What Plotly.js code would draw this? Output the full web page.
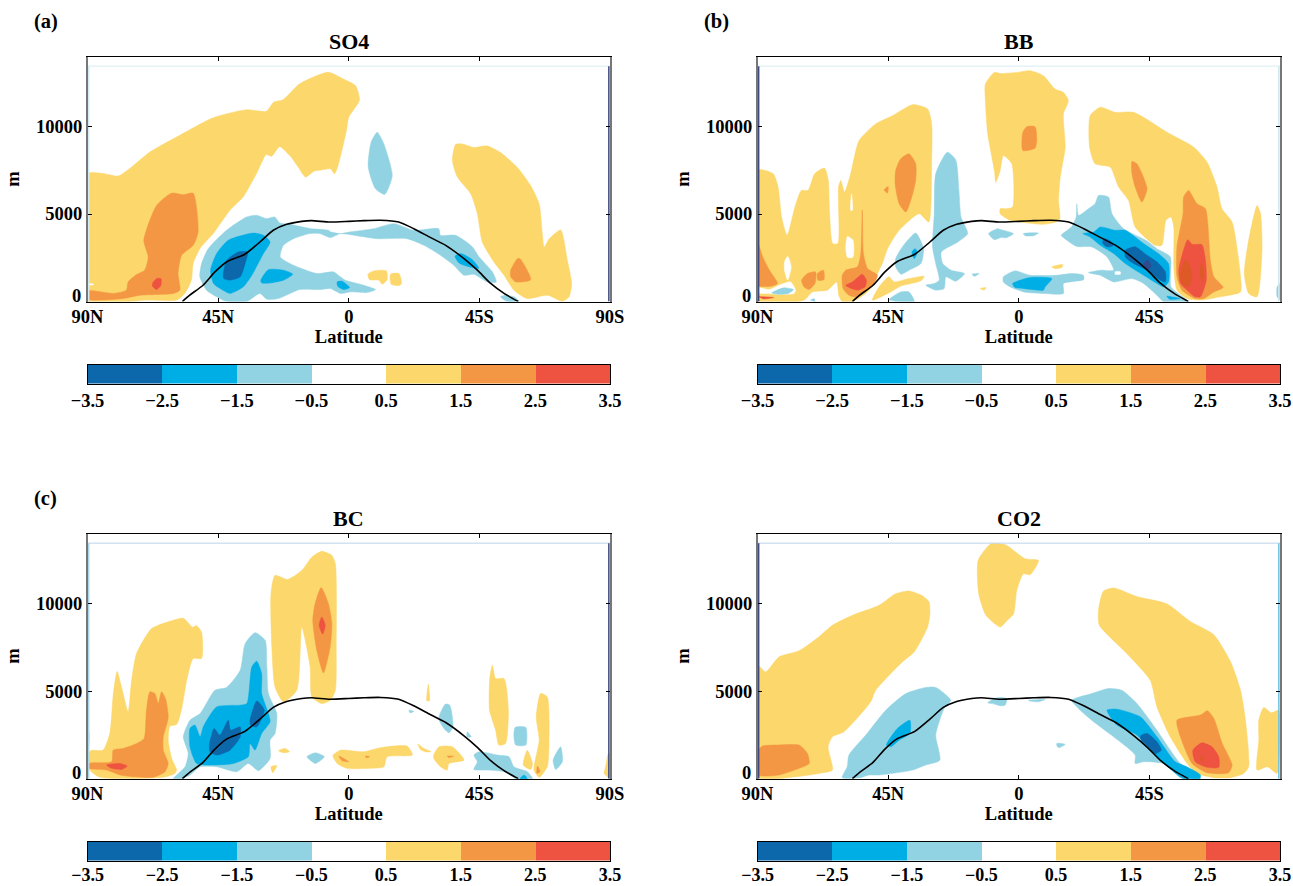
<!DOCTYPE html>
<html><head><meta charset="utf-8">
<script src="https://cdn.plot.ly/plotly-3.0.1.min.js"></script>
<style>html,body{margin:0;padding:0;background:#fff}</style></head>
<body><div id="chart" style="width:1293px;height:886px"></div>
<script>
// Contour outlines: flat lists of latitude (N +, S -), height (m)
const levels = [-3, -2, -1, 0, 1, 2, 3];
const levelEdges = [-3.5, -2.5, -1.5, -0.5, 0.5, 1.5, 2.5, 3.5];
const latTicks = [90, 45, 0, -45, -90];
const latLabels = ['90N', '45N', '0', '45S', '90S'];
const terrainLat = [57.3,54.8,50.2,46.1,42.1,35.8,30.6,26,21.4,16.2,12.8,6.5,0,-5.2,-10.9,-17.2,-22.4,-28.2,-33.4,-39.7,-44.3,-48.9,-53.5,-58.4];
const terrainH = [0,360,930,1690,2260,2700,3400,4070,4410,4580,4620,4540,4580,4620,4640,4540,4160,3650,3210,2450,1790,1030,460,0];

// SO4
const so4_y1 = [89.8,7310,84.6,7310,79.4,7170,74.8,7690,68.5,8540,58.2,9500,46.7,10500,35.2,10960,28.4,10870,25.8,11400,22.6,11530,16.9,12440,7.1,13100,1.7,12700,-2.3,12340,-3.7,11510,0,10530,0.8,9770,3.5,7870,4.9,7300,6.3,7580,10,7500,12,7450,14.9,7110,17.4,7680,20.3,8340,23.8,8850,26.6,8300,28.4,8400,31.8,7300,36.4,5970,41,5200,46.7,3880,51.3,3020,53.6,2170,54.2,1220,56.5,460,59.3,80,69.7,80,89.9,20];
const so4_o1 = [89.8,610,81.2,460,76.6,650,76,1120,73.1,1540,70.3,1790,69.1,2550,70.6,3500,66.2,5490,61,6190,57,6100,53.6,6190,51.9,3970,53.6,3210,57.6,2640,58.8,1600,58.2,650,60.5,460,72,360,77.7,170,89.8,130];
const so4_r1 = [67.6,1030,66.2,1310,64.7,1310,64.7,930,66.2,680,67.6,870];
const so4_w1 = [89.7,1000,88,1000,88,950,89.7,950];
const so4_b1 = [51.3,1410,50.7,2170,48.4,3020,42.1,4070,35.2,4830,31.8,4930,28.4,4740,25.5,4830,23.8,4490,20.3,4410,13.4,4170,7,4070,6.3,3980,2.9,3880,-0.6,3980,-8.6,4160,-15.5,4450,-22.4,4070,-31,4160,-31.6,3780,-36.8,3780,-42.6,3120,-44.9,2550,-49.5,1690,-50.8,1120,-47.7,1120,-43.1,1560,-39.7,1500,-36.2,2070,-31.6,2640,-25.9,3210,-20.1,3590,-9.8,3590,-0.6,3820,2.9,3880,6.3,3650,10,3880,13.4,3880,19,3590,22.5,3210,23.6,2550,19,2070,11,1600,5.2,1690,2.9,1410,1.2,1220,-5.2,930,-9.2,680,-6.3,510,-0.6,550,2.9,460,6.3,740,10,680,16.9,680,24.2,170,28.2,130,30.6,460,35.2,0,42.1,0,45.5,270,49,650];
const so4_m1 = [47.6,1790,45.5,2740,41.5,3500,32.9,3910,29.4,3780,27.1,3400,29.4,2740,33.4,1500,36.3,840,40.9,460,44.3,740,46.6,1030];
const so4_d1 = [43.2,1600,42,2360,38,2830,34.9,2830,35.7,2170,37.4,1410,40.9,1220,43,1310];
const so4_m2 = [30.3,1220,27.7,1820,22.5,1790,19.3,1560,22.5,1220,27.1,1060,30,1060];
const so4_m3 = [4,1120,2.3,1160,-0.3,800,1.7,680,3.8,870];
const so4_m4 = [-36.6,2590,-38.5,2750,-42.5,2400,-44.8,1900,-42,1960,-38,2200];
const so4_b2 = [-9.8,9670,-12.1,9000,-15,7200,-12.4,6120,-9.2,6440,-6.7,7680,-7.7,9100];
const so4_b3 = [-52.3,270,-54,360,-56.9,270,-58.7,0,-54.6,0];
const so4_y2 = [-36.8,8970,-39.1,9000,-43.1,8800,-47.7,8890,-52.3,8510,-58.1,7660,-62.7,6610,-65.6,5570,-66.7,3860,-67.3,3100,-69,3570,-73,4090,-75.3,2360,-76.8,1030,-75.9,270,-73.6,20,-68.4,360,-61.5,170,-56.9,650,-53.5,1500,-50,2260,-46,3400,-44.3,5020,-42,6160,-37.4,7120,-35.7,8060];
const so4_o2 = [-55.8,1790,-58.1,2450,-59,2450,-62.7,1250,-57.5,1120,-55.8,1410];
const so4_y3 = [-6.6,1560,-8.6,1750,-13,1750,-13.2,1250,-11.5,990,-10.4,1220,-7.2,1250];
const so4_y4 = [-14.4,1560,-17.3,1600,-18.2,1030,-17.3,910,-14.6,990];

// BB
const bb_y1 = [90,7520,84.6,7300,82.9,6540,81.7,4830,79.8,3780,77.1,5400,74.9,6350,72.6,6350,70.3,7300,66.9,7620,65.6,6920,65.2,5210,64.1,3310,62.3,3310,62.1,6540,61.3,6920,60,6250,57.9,7300,55,9200,49.3,10150,43.5,10620,36.6,11250,31.4,11000,30,10150,30,8060,31,4540,34.3,5020,41.2,4070,45.2,3020,47,2170,48.1,1790,50.6,840,52.7,460,57.3,0,60.8,0,62,360,62.7,1120,65.9,650,71.1,550,74,80,90,0];
const bb_w1 = [79.6,2580,78.4,1980,79.6,1220,80.7,1790,80.7,2260];
const bb_w2 = [90,800,86,680,82.6,930,78.6,1120,76.9,650,77.4,460,82.6,420,87,460,90,490];
const bb_w3 = [59,3720,57.1,3500,57.1,2550,59,2510,59.6,3120];
const bb_w4 = [57.6,6160,57.3,5210,57.9,5210];
const bb_y2t = [44.7,1410,42.9,1120,37.8,1310,32.6,1440,33.7,1180,40.6,880,44.1,550,50.4,80,48.1,840];
const bb_b0 = [85.1,490,81,780,77.6,680,79.3,460,82.8,420];
const bb_o1 = [90,3400,88.2,2550,85.9,1790,83.1,1030,85.4,870,90,930];
const bb_o2 = [74.8,1220,72.8,1600,70,1690,70.2,1030,72.3,680,74,840];
const bb_o3 = [69.4,1600,67.3,1790,67.1,1250,69.2,1220];
const bb_o4 = [60.8,1500,59.6,1790,55.6,1980,54.4,2740,53.9,5210,53.5,2740,52.1,1880,48.7,1500,50.6,840,53.3,550,56.2,270,58.5,360,60.5,740];
const bb_r1 = [59.6,930,57.3,1120,53.9,1560,52.5,1220,52.9,840,55.6,650,58.5,800];
const bb_o5 = [42.4,7490,40.7,8150,37.8,8440,35.5,7870,35.5,6920,37.2,5780,38.9,5110,41.2,5590,42.6,6730];
const bb_o6 = [46.4,6380,45,6570,45.2,6190];
const bb_r0 = [89.5,270,84.4,230,87.9,150];
const bb_b1 = [42.4,2450,40.1,3120,35.5,3910,32.8,3020,33.7,2170,37.8,1790,40.6,1560,42.4,1980];
const bb_m0 = [36.8,2830,35.7,3020,34.9,2830,36,2450];
const bb_b2 = [28.6,7300,24.6,8530,21.7,8090,20.6,6350,19.9,4830,17.6,3880,21,3400,26.7,2830,26.2,2170,23.3,1790,18.7,1600,21.7,1160,25.1,1410,25.7,740,28.6,650,32,930,29.1,1030,27.4,1220,28.6,2170,29.7,3120,29.1,5020];
const bb_b4 = [44.7,110,40.6,550,37.8,550,36,0,42.4,0];
const bb_b5 = [10.4,3880,7.3,4160,6.4,4120,1.8,3880,4.1,3650,6.4,3650,8.4,3530];
const bb_b6 = [-1.6,3880,-6.8,3910,-5.1,3760,-2.2,3760];
const bb_b7 = [16.1,1560,13.6,1600,15.3,1440];
const bb_b8 = [71.7,80,70.5,170,70.2,0];
const bb_y3s = [13.3,740,11.3,800,11.9,650];
const bb_y2 = [11.5,12430,8.4,13090,6.4,13030,0.7,13090,-3.9,13190,-8.5,12900,-12.5,12140,-15.4,11950,-17.1,11480,-15.4,10720,-16,8820,-14.3,7110,-13.7,5780,-14,4640,-8.5,4410,-0.5,4540,3,4640,6.4,5020,6.4,5300,4.1,5300,2.1,5400,2.4,7870,5.3,8340,6.4,7490,7.9,6820,8.4,7490,10.7,9580,11.5,11480];
const bb_o8 = [-1.4,9670,-2.8,9990,-5.6,9990,-6.2,9200,-5.6,8760,-1.4,8630];
const bb_y3 = [-24.4,8820,-24.6,10620,-28.1,11100,-33.2,10810,-39.6,10810,-51.1,9670,-60.3,8820,-64.9,7960,-68.3,6540,-70,5300,-73.5,4540,-76.4,1410,-76.4,550,-69.5,270,-62.6,80,-58,170,-54.5,650,-53.4,1980,-53.4,4260,-52.4,4830,-50.7,4640,-49.3,3210,-47,3210,-40.1,4260,-37.8,5780,-34.4,6540,-31.5,7680,-26.3,7870];
const bb_o9 = [-39,8000,-40.7,7870,-44.2,6440,-42.4,5680,-40.1,6540,-39,7300];
const bb_o10 = [-56.8,5970,-58.5,6350,-61.4,5590,-64.3,5300,-66,2360,-67.2,1410,-70.4,800,-67.2,550,-63.7,170,-60.8,170,-56.2,650,-54.5,1410,-54.5,3120,-56.6,5020];
const bb_r2 = [-55.8,2360,-58.2,3530,-59.7,3270,-63.1,3250,-64.3,2360,-64.6,1220,-62.6,270,-60.8,270,-58,650,-55.7,1030,-55.1,1790];
const bb_x1 = [-55.7,1600,-57.4,2390,-59.1,1980,-59.7,1410,-58.5,870,-56.2,1030];
const bb_x2 = [-62.3,1600,-63,2160,-63.7,1600,-63.2,1180];
const bb_y4 = [-79.2,3500,-82.1,5490,-83.3,5020,-83.8,2930,-82.1,270,-79.2,460,-77.7,1600];
const bb_b9 = [-14.6,3780,-18.3,4290,-19.8,4830,-20,5590,-20.6,4920,-24,5300,-26.3,5590,-27.5,6060,-30.9,5970,-32.1,5020,-36.1,4160,-44.2,3460,-47.6,3020,-52.2,2550,-52.4,840,-55.7,360,-58.5,0,-49.9,0,-47.6,360,-43,1030,-39,1310,-32.7,1120,-28.1,1500,-24,1650,-28.1,1790,-32.7,1790,-30.4,2550,-25.2,3120,-20,3150,-15.4,3650];
const bb_w5 = [-33.2,1700,-35,1700,-35,1560,-33.2,1560];
const bb_m4 = [-22.1,3880,-25.8,3970,-28.1,4260,-33.2,4070,-36.7,4070,-43,3310,-48.8,2650,-51.6,2170,-51.6,1120,-49.9,840,-47.6,1030,-43,1500,-36.7,2170,-32.7,2740,-28.1,3210,-24.6,3680];
const bb_d1 = [-36.7,2930,-40.2,3120,-44.2,2640,-47.6,2260,-50.5,1690,-50.5,1120,-48.8,1220,-44.2,1790,-39.6,2170,-36.7,2550];
const bb_d2 = [-29.2,3590,-31.5,3460,-32.7,3210,-30.4,3120,-29,3310];
const bb_n1 = [-43,2170,-44.7,2360,-45.5,1980,-44.2,1820];
const bb_m5 = [-51,300,-55.6,170,-52,130];
const bb_b10 = [5.3,1410,1.3,1750,-3.9,1500,-13.1,1500,-18.3,1600,-22.3,1500,-22.3,1250,-15.4,1030,-15.4,460,-8.5,460,-1.6,550,3,840,5.3,1120];
const bb_m6 = [2.1,1030,-3.9,1370,-11.4,1310,-9.1,840,-8.5,650,-1.6,740,1.3,800];
const bb_y5 = [-11.4,1980,-15.2,2110,-14.8,1940,-12.5,1880];
const bb_b11 = [-89,840,-90,1030,-90,80,-89,270];

// BC
const bc_y1 = [89.8,1250,89,1600,84.6,1640,82.3,2590,81.1,4860,79.8,6120,78.3,5250,76,3820,74.8,5630,73.1,7150,67.9,8570,61.6,8990,57,9160,53.8,8650,52.4,8740,50.7,8360,50.7,6860,53.6,6860,55.8,5630,57.6,3950,59.3,3100,61.6,3000,62.2,2200,61,1160,59.3,490,59.9,300,63.9,80,85.7,80,89.2,490];
const bc_o1 = [89.4,870,81.7,970,81.1,1640,77.7,1730,73.1,2010,70.5,2300,69.7,3910,68.5,4960,66.8,4860,65.6,4290,64.5,4960,63.1,4560,62.2,3500,63.9,2390,63.9,1630,62.2,870,63.3,400,67.4,80,74.2,110,78.8,210,83.4,490,89.4,590];
const bc_r1 = [83.4,780,78.8,870,76.3,720,78.2,530,81.7,590];
const bc_b1 = [90,3100,89.4,2500,89.7,1800,90,1800];
const bc_b2 = [57,2390,54.7,3340,51.2,3720,46.1,5050,42.1,5210,37.4,6190,35.7,7710,32.3,8340,28.8,7900,28.2,6380,27.7,4860,24.8,3720,25.4,2580,27.1,2200,27.1,1160,31.1,460,34.6,870,38.6,400,45.5,680,51.2,680,54.7,210,57.6,0,60.4,0,56.4,680,55.3,1440];
const bc_m1 = [54.7,2870,53,3060,51.2,2390,50.1,2970,45.5,4100,37.4,4200,35.1,4290,33.4,6380,31.7,6710,30,6000,30,4860,27.7,3720,27.1,3250,30,2580,32.3,1630,34,2010,34.6,1250,39.7,870,46.6,780,52.4,870,54.7,1830];
const bc_d1 = [48,1920,46.4,2870,44.4,2490,41.5,3340,40.7,2770,37.4,2960,37.4,2390,40.9,1630,45.5,1350,47.8,1540];
const bc_d2 = [34,3340,31.7,4430,29.1,3910,31.7,2960,33.8,3060];
const bc_y2 = [26.8,10560,25.4,11610,21.1,11380,16.2,11890,12.7,12650,9.3,12980,5.8,12750,4.6,12270,4.3,7520,4.6,5050,6.3,4480,9.3,4290,12.7,4670,13.3,6380,16.2,8660,17.9,5050,22.5,4390,25.4,5240,26.5,7520];
const bc_o2 = [9.5,10910,7,9990,5.8,8850,6.4,7520,8.7,6040,11,7320,12.4,9040,11.6,9990];
const bc_r2 = [9.3,9230,8.1,8760,9,8250,10.2,8760];
const bc_y3 = [5.4,1350,2.9,1630,-5.2,1540,-10.9,1770,-20.1,1860,-21.9,1350,-13.2,1250,-12.1,680,-7.5,590,0.6,590,4,870,5.4,1250];
const bc_o3 = [3.4,1290,1.2,1100,0,970,2.3,1030];
const bc_o4 = [-5.7,1290,-7.2,1250,-6,1200];
const bc_y4 = [24.2,1600,21.9,1730,20.4,1540,22.5,1480];
const bc_y5 = [26.8,680,24.8,740,26.2,340];
const bc_b3 = [14.4,1250,11.5,1480,8.4,1250,11.5,870];
const bc_y6 = [-23.8,1980,-25.9,1730,-28.4,1540,-26.4,1540,-24.7,1670];
const bc_y7 = [-29.3,1350,-31.1,1820,-35.7,1820,-39.7,1060,-34.5,870,-33.9,490,-31.6,680,-29.3,1160];
const bc_o5 = [-33.9,1290,-36.2,1290,-34.5,1200];
const bc_y8 = [-27.4,5400,-27.8,4450,-26.9,4450];
const bc_b4 = [-33.3,4260,-34.8,4200,-35.9,2960,-34.5,2620,-32.8,2870,-31,3440];
const bc_b5 = [-20.7,3910,-22.4,3850,-21.2,3750];
const bc_b6 = [-40.8,2680,-42.2,2390,-40.8,2390];
const bc_y9 = [-49.5,6480,-50.6,5720,-53.5,5720,-55,3910,-54,2010,-51.7,1920,-50.6,2770,-48.5,3910,-48.6,5810];
const bc_b7 = [-57.3,2930,-61,2930,-61,1920,-57.5,1920,-56.9,2390];
const bc_b8 = [-43.1,1350,-44.9,1540,-51.2,1350,-55.2,1250,-56.9,680,-61.5,400,-63.3,0,-57.7,0,-53.5,400,-47.7,490,-43.1,530,-44.3,970];
const bc_m2 = [-59,0,-60.4,210,-61.5,0];
const bc_y10 = [-61.5,1630,-63.3,870,-62.7,530,-60.1,780];
const bc_y11 = [-66.1,4860,-68.4,4670,-69,2200,-68.4,680,-65.6,80,-63.8,490,-65.6,2200,-64.6,3530];
const bc_o6 = [-65,720,-65.9,400,-64.8,300];
const bc_b9 = [-73,1820,-73.6,970,-71.3,530,-70.4,1060];
const bc_y12 = [-89.4,1440,-90,1440,-90,20,-88,300,-88.5,680];

// CO2
const co2_y1 = [89.9,6480,87.2,6100,82.6,6950,75.7,7300,68.8,8110,64.2,8760,57.3,9330,48.1,9900,42.4,10560,37.8,10720,33.2,10450,30.9,10090,30.6,9420,31.4,8660,36,7240,40.1,6670,49.3,5050,51,4390,60.2,2680,64.2,2390,65.7,1820,64.2,490,68.8,300,76.9,110,89.9,80];
const co2_o1 = [89.9,1540,88.4,1860,83.8,1920,75.7,1920,72.8,1440,72.2,870,75.7,590,82.6,210,89.5,210];
const co2_b1 = [60.8,60,59.1,680,58.5,1350,52.7,2490,45.8,3910,38.9,4860,32,5210,28.6,5210,23.4,4480,25.7,4010,28.6,2490,27.2,1060,32,780,36.6,490,48.1,210,51.6,210,54.5,60];
const co2_m1 = [45.6,1920,41.8,2870,37.5,3340,37.5,2580,41.2,2200,44.1,1820];
const co2_y2 = [14,12460,9.6,13410,6.4,13410,4.1,13320,-2.2,12560,-6.8,12460,-3.9,11650,-1.6,11700,0.7,10740,1.8,9400,4.1,9020,6.4,8660,11.3,9330,13.8,10560];
const co2_b2 = [10.7,4330,8.4,4580,6.4,4640,4.1,4580,4.7,4200,6.4,4160,8.4,4260];
const co2_b3 = [-3.3,4480,-9.1,4520,-6.8,4390,-3.9,4430];
const co2_y3 = [-27.5,9670,-29.2,10710,-32.7,10890,-40.7,10400,-51.1,9980,-59.1,8980,-67.2,8220,-72.9,6700,-76.4,5050,-78.1,3340,-79.2,680,-77.5,300,-72.9,60,-67.2,60,-61.4,300,-58,870,-52.2,2390,-47.6,4100,-45.3,5620,-37.3,7140,-27.7,8780];
const co2_o2 = [-54.5,3340,-62.6,3630,-65,3880,-67.2,3440,-70.1,2010,-73.5,780,-72.3,340,-64.9,340,-59.7,870,-55.7,2390];
const co2_r1 = [-60,1630,-63.1,2050,-66.6,1820,-68.9,1250,-68.9,650,-64.9,650,-60.8,970];
const co2_x1 = [-62.6,1290,-63.7,1160,-63.1,970];
const co2_b4 = [-18.3,4480,-25.2,4860,-30.9,5150,-35.5,5050,-40.7,4290,-47.6,2770,-52.2,1630,-55.7,870,-62,210,-62.6,0,-56.2,0,-49.9,870,-43,970,-40.1,870,-40.1,1350,-32.7,2390,-25.8,3250,-21.2,3910];
const co2_m2 = [-30.4,3910,-33.8,3970,-41.9,3530,-47.6,2390,-53.9,970,-57.9,680,-62.6,210,-62.3,0,-56.8,0,-47.6,1250,-40.7,2490,-33.8,3060];
const co2_d1 = [-41.9,2440,-44.2,2580,-47.6,2110,-49.1,1630,-47,1440,-44.7,1820,-42.2,2200];
const co2_b5 = [-13.1,2010,-16,1960,-14,1770,-13.3,1820];
const co2_y4 = [-82.7,3340,-84.4,4070,-87.1,3760,-89.6,3910,-89.6,870,-89,300,-85.6,680,-82.1,490,-82.7,2200];

// [outline, level] in drawing order. Level 0 = the white band; 4 / -4 = the extreme inner patches
const panelSO4 = [[so4_y1,1],[so4_w1,0],[so4_o1,2],[so4_r1,3],[so4_b1,-1],[so4_m1,-2],[so4_d1,-3],[so4_m2,-2],[so4_m3,-2],[so4_m4,-2],[so4_b2,-1],[so4_b3,-1],[so4_y2,1],[so4_o2,2],[so4_y3,1],[so4_y4,1]];
const panelBB = [[bb_y1,1],[bb_w1,0],[bb_w2,0],[bb_w3,0],[bb_w4,0],[bb_y2t,1],[bb_b0,-1],[bb_o1,2],[bb_o2,2],[bb_o3,2],[bb_o4,2],[bb_r1,3],[bb_o5,2],[bb_o6,2],[bb_r0,3],[bb_b1,-1],[bb_m0,-2],[bb_b2,-1],[bb_b4,-1],[bb_b5,-1],[bb_b6,-1],[bb_b7,-1],[bb_b8,-1],[bb_y3s,1],[bb_y2,1],[bb_o8,2],[bb_y3,1],[bb_o9,2],[bb_o10,2],[bb_r2,3],[bb_x1,4],[bb_x2,4],[bb_y4,1],[bb_y5,1],[bb_b9,-1],[bb_w5,0],[bb_m4,-2],[bb_d1,-3],[bb_d2,-3],[bb_n1,-4],[bb_m5,-2],[bb_b10,-1],[bb_m6,-2],[bb_b11,-1]];
const panelBC = [[bc_y1,1],[bc_o1,2],[bc_r1,3],[bc_b1,-1],[bc_b2,-1],[bc_m1,-2],[bc_d1,-3],[bc_d2,-3],[bc_y2,1],[bc_o2,2],[bc_r2,3],[bc_y3,1],[bc_o3,2],[bc_o4,2],[bc_y4,1],[bc_y5,1],[bc_b3,-1],[bc_y6,1],[bc_y7,1],[bc_o5,2],[bc_y8,1],[bc_b4,-1],[bc_b5,-1],[bc_b6,-1],[bc_y9,1],[bc_b7,-1],[bc_b8,-1],[bc_m2,-2],[bc_y10,1],[bc_y11,1],[bc_o6,2],[bc_b9,-1],[bc_y12,1]];
const panelCO2 = [[co2_y1,1],[co2_o1,2],[co2_b1,-1],[co2_m1,-2],[co2_y2,1],[co2_b2,-1],[co2_b3,-1],[co2_y3,1],[co2_o2,2],[co2_r1,3],[co2_x1,4],[co2_b4,-1],[co2_m2,-2],[co2_d1,-3],[co2_b5,-1],[co2_y4,1]];

const titles = ['SO4', 'BB', 'BC', 'CO2'];
const letters = ['(a)', '(b)', '(c)'];
const panels = [panelSO4, panelBB, panelBC, panelCO2];

const palette = {'-4':'#2f4a8f','-3':'#0d67ab','-2':'#00aee6','-1':'#92d3e3','0':'#ffffff','1':'#fcd76b','2':'#f49745','3':'#ed5340','4':'#dd5a27'};
const W = 1293, H = 886;
const font = 'Liberation Serif, Times New Roman, serif';
const left = [87.5, 757.5], right = [610, 1280];
const top_ = [56.5, 533.5], bot = [301.5, 778.7];
const cbTop = [364.5, 841.5], cbBot = [383.5, 860.5];
const edgeStyle = [
 {l:['#d4ebf3',null], r:['#3c4a80',null], top:'#d8edf4'},
 {l:['#3c4a80',null], r:['#cfe8f0',null], top:'#d8edf4'},
 {l:['#a9d8ea',null], r:['#3c4a80',null], top:'#bcd3e8'},
 {l:['#3c4a80',null], r:['#6cc3e3',null], top:'#bcd3e8'}];

const traces = [], layout = {width:W, height:H, margin:{l:0,r:0,t:0,b:0}, autosize:false, showlegend:false,
  paper_bgcolor:'#fff', plot_bgcolor:'#fff', font:{family:font, size:18.5, color:'#000', weight:'bold'}, annotations:[]};
const tf = {family:font, size:18.5, color:'#000', weight:'bold'};

panels.forEach((polys, i) => {
  const col = i % 2, row = i < 2 ? 0 : 1;
  const xk = i ? 'x'+(i+1) : 'x', yk = i ? 'y'+(i+1) : 'y';
  const xa = i ? 'xaxis'+(i+1) : 'xaxis', ya = i ? 'yaxis'+(i+1) : 'yaxis';
  layout[xa] = {domain:[left[col]/W, right[col]/W], range:[90,-90], tickmode:'array', tickvals:latTicks, ticktext:latLabels,
    ticks:'inside', ticklen:4, tickcolor:'#000', showline:true, linecolor:'#000', linewidth:1, mirror:'ticks', showgrid:false, zeroline:false,
    tickfont:tf, anchor:yk, ticklabelstandoff:-2, title:{text:'Latitude', font:tf, standoff:1}, fixedrange:true};
  layout[ya] = {domain:[1-bot[row]/H, 1-top_[row]/H], range:[0,14000], tickmode:'array', tickvals:[0,5000,10000], ticktext:['','5000','10000'],
    ticks:'inside', ticklen:4, tickcolor:'#000', showline:true, linecolor:'#777', linewidth:1.5, mirror:'ticks', showgrid:false, zeroline:false,
    tickfont:tf, anchor:xk, title:{text:'m', font:tf, standoff:11}, fixedrange:true};

  polys.forEach(([pts, lev]) => {
    const lat = [], h = [];
    for (let k = 0; k < pts.length; k += 2) { lat.push(pts[k]); h.push(pts[k+1]); }
    lat.push(pts[0]); h.push(pts[1]);
    const c = palette[lev];
    traces.push({type:'scatter', mode:'lines', x:lat, y:h, xaxis:xk, yaxis:yk, fill:'toself', fillcolor:c,
      line:{color:c, width:0.5, shape:'spline', smoothing:0.6, simplify:false}, hoverinfo:'skip'});
  });
  // terrain line
  traces.push({type:'scatter', mode:'lines', x:terrainLat, y:terrainH, xaxis:xk, yaxis:yk,
    line:{color:'#000', width:1.6, shape:'spline', smoothing:0.6, simplify:false}, hoverinfo:'skip'});
  // data-domain edges
  const e = edgeStyle[i];
  const addEdge = (x, y, c, w) => traces.push({type:'scatter', mode:'lines', x, y, xaxis:xk, yaxis:yk, line:{color:c,width:w}, hoverinfo:'skip'});
  addEdge([90,-90],[13450,13450], e.top, 1);
  addEdge([89.6,89.6],[0,13450], e.l[0], 1.5);
  addEdge([-89.6,-89.6],[0,13450], e.r[0], 1.5);

  // colour bar
  const xb = 'x'+(i+5), yb = 'y'+(i+5);
  layout['xaxis'+(i+5)] = {domain:[left[col]/W, right[col]/W], range:[-3.5,3.5], tickmode:'array', tickvals:levelEdges,
    ticktext:levelEdges.map(v => (v<0?'\u2212':'')+Math.abs(v).toFixed(1)), ticks:'', showline:true, linecolor:'#000', linewidth:1, mirror:true,
    showgrid:false, zeroline:false, tickfont:row ? Object.assign({}, tf, {size:18}) : tf, ticklabelstandoff: row ? -2 : 0, anchor:yb, fixedrange:true};
  layout['yaxis'+(i+5)] = {domain:[1-cbBot[row]/H, 1-cbTop[row]/H], range:[0,1], showticklabels:false, ticks:'', showline:true, linecolor:'#000', linewidth:1, mirror:true,
    showgrid:false, zeroline:false, anchor:xb, fixedrange:true};
  const n = levels.length;
  traces.push({type:'heatmap', x:levels, y:[0,1], z:[levels, levels], xaxis:xb, yaxis:yb, zmin:-3.5, zmax:3.5, showscale:false, hoverinfo:'skip',
    colorscale: levels.flatMap((v,k)=>[[k/n,palette[v]],[(k+1)/n,palette[v]]])});

  // panel title, letter, the raised "0" label
  layout.annotations.push({xref:'paper',yref:'paper',x:((left[col]+right[col])/2)/W,y:1-(top_[row]-1)/H,xanchor:'center',yanchor:'bottom',showarrow:false,text:titles[i],font:{family:font,size:22,color:'#000',weight:'bold'}});
  if (letters[i]) layout.annotations.push({xref:'paper',yref:'paper',x:(left[col]-56)/W,y:1-(top_[row]-34.5)/H,xanchor:'left',yanchor:'middle',showarrow:false,text:letters[i],font:{family:font,size:20.5,color:'#000',weight:'bold'}});
  layout.annotations.push({xref:'paper',yref:'paper',x:(left[col]-5)/W,y:1-(bot[row]-5.5)/H,xanchor:'right',yanchor:'middle',showarrow:false,text:'0',font:tf});
});

Plotly.newPlot('chart', traces, layout, {displayModeBar:false, staticPlot:true});
</script></body></html>
